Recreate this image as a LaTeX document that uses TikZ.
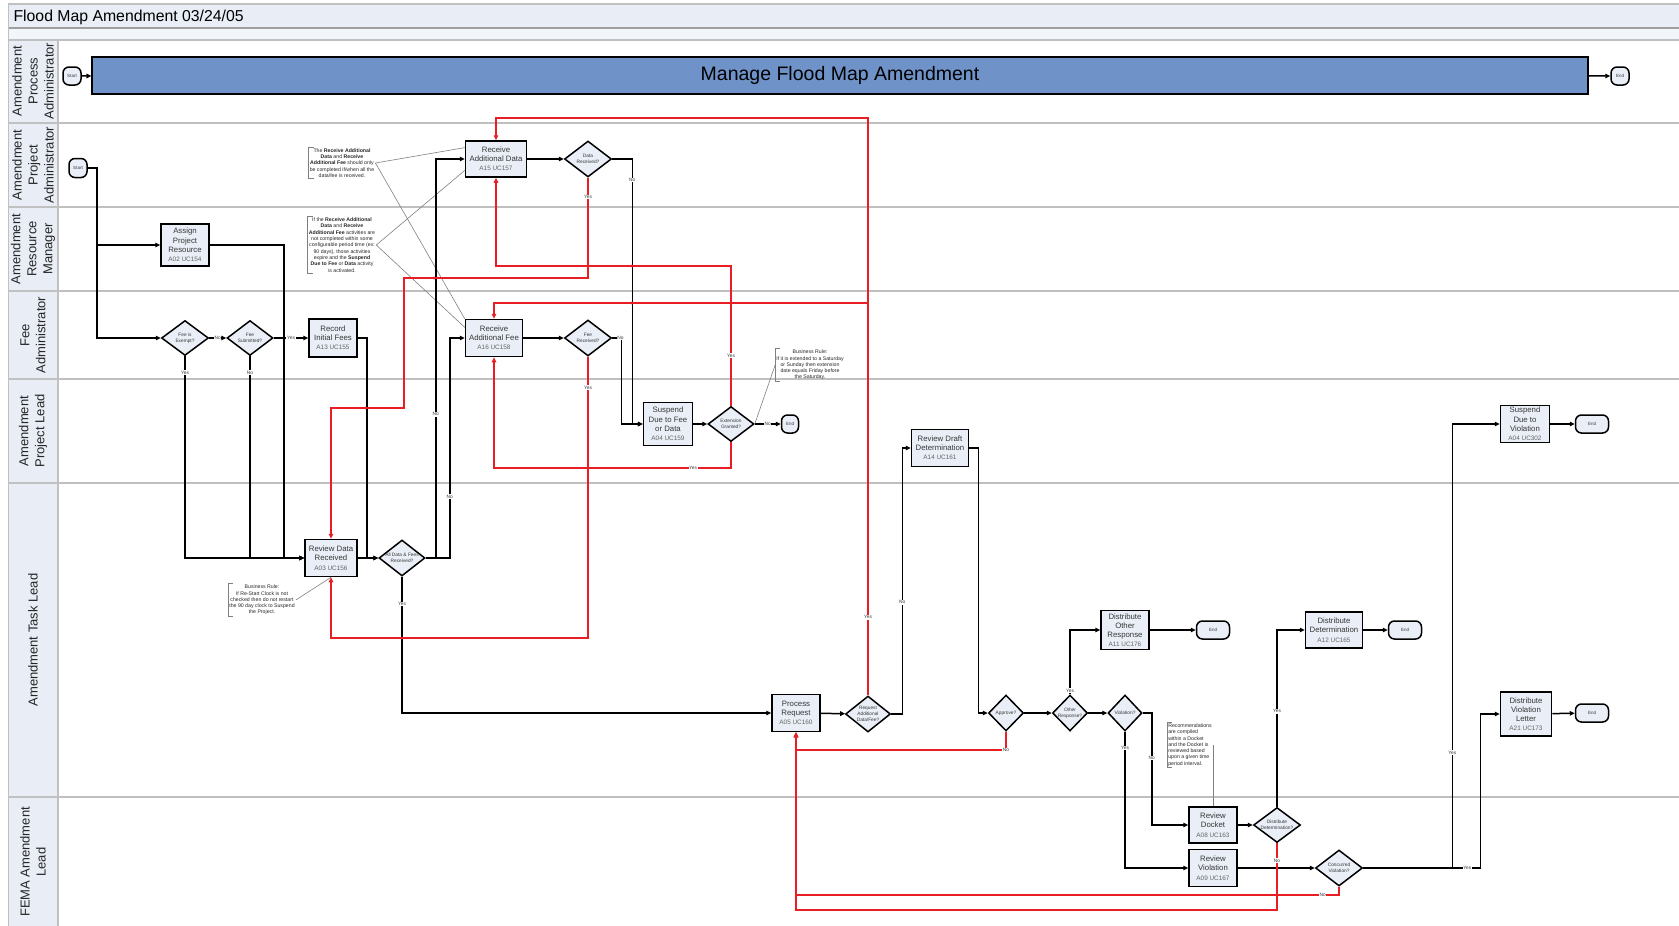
\documentclass[tikz,border=0pt]{standalone}
\usepackage{fontspec}
\setmainfont{Liberation Sans}
\usetikzlibrary{shapes.geometric,arrows.meta}
\definecolor{lanefill}{RGB}{232,237,246}
\definecolor{boxfill}{RGB}{233,238,247}
\definecolor{barblue}{RGB}{111,146,200}
\definecolor{laneline}{RGB}{192,192,192}
\definecolor{backred}{RGB}{232,30,36}
\definecolor{txtgrey}{RGB}{55,55,55}
\newcommand{\ucid}[1]{{\fontsize{6.4}{7.6}\selectfont\color{black!60}#1}}

\begin{document}
\begin{tikzpicture}[x=1pt,y=-1pt,
	task/.style={draw=black, line width=1.5pt, fill=boxfill, inner sep=0pt, align=center, text=txtgrey, font=\fontsize{7.8}{9.2}\selectfont},
	decide/.style={diamond, draw=black, line width=1.5pt, fill=boxfill, inner sep=0pt, label={[dtext]center:#1}},
	dtext/.style={align=center, inner sep=0pt, text=txtgrey, font=\fontsize{4.8}{6}\selectfont},
	term/.style={draw=black, line width=1.5pt, fill=boxfill, rounded corners=6pt, inner sep=0pt, text=txtgrey, font=\fontsize{4.5}{5}\selectfont},
	flow/.style={draw=black, line width=1.5pt, -{Triangle[length=5pt,width=4.5pt]}},
	redflow/.style={draw=backred, line width=1.5pt, -{Triangle[length=5pt,width=4.5pt]}},
	yn/.style={fill=white, inner sep=0.6pt, text=txtgrey, font=\fontsize{4.8}{5}\selectfont},
	memo/.style={align=center, inner sep=1pt, text=black!85, font=\fontsize{5.2}{6.3}\selectfont},
	brack/.style={draw=gray, line width=0.6pt},
	pointer/.style={draw=gray, line width=0.6pt},
	lanename/.style={rotate=90, align=center, text=black!85, font=\fontsize{13}{16}\selectfont},
	]
	\useasboundingbox (0,0) rectangle (1679,926);
	\fill[lanefill] (8,4) rectangle (1679,28);
	\fill[lanefill!55] (8,28) rectangle (1679,40);
	\fill[lanefill] (8,40) rectangle (58,926);
	\draw[laneline, line width=1.2pt] (8,4) -- (1679,4);
	\draw[gray!75, line width=1.2pt] (8,28) -- (1679,28);
	\draw[laneline, line width=1.2pt] (8,40) -- (1679,40);
	\draw[laneline, line width=1pt] (8,4) -- (8,926);
	\draw[laneline, line width=1.2pt] (58,40) -- (58,926);
	\foreach \y in {123,207,291,379,483,797}
		\draw[laneline, line width=1.6pt] (8,\y) -- (1679,\y);
	\node[anchor=base west, font=\fontsize{15.8}{18}\selectfont] (title) at (10,21) {Flood Map Amendment 03/24/05};

	\node[lanename] (lane1) at (33,81) {Amendment\\Process\\Administrator};
	\node[lanename] (lane2) at (33,165) {Amendment\\Project\\Administrator};
	\node[lanename] (lane3) at (33,249) {Amendment\\Resource\\Manager};
	\node[lanename] (lane4) at (33,335) {Fee\\Administrator};
	\node[lanename] (lane5) at (33,431) {Amendment\\Project Lead};
	\node[lanename] (lane6) at (33,640) {Amendment Task Lead};
	\node[lanename] (lane7) at (33,862) {FEMA Amendment\\Lead};

	\node[term, minimum width=18pt, minimum height=18pt] (start0) at (72,76) {Start};
	\node[draw=black, line width=1.2pt, fill=barblue, minimum width=1496pt, minimum height=37pt, inner sep=0pt, font=\fontsize{19.5}{22}\selectfont] (manage) at (840,75.5) {Manage Flood Map Amendment};
	\node[term, minimum width=18pt, minimum height=18pt] (end0) at (1620,76) {End};

	\node[term, minimum width=18pt, minimum height=19pt] (start) at (78,168) {Start};
	\node[task, minimum width=61pt, minimum height=36pt] (rad) at (496,159) {Receive\\Additional Data\\\ucid{A15 UC157}};
	\node[decide={Data\\Received?}, minimum width=47pt, minimum height=36pt] (datarec) at (588,159) {};
	\node[task, minimum width=48pt, minimum height=42pt] (apr) at (185,245) {Assign\\Project\\Resource\\\ucid{A02 UC154}};
	\node[memo] (memo1) at (342,163) {The \textbf{Receive Additional}\\\textbf{Data} and \textbf{Receive}\\\textbf{Additional Fee} should only\\be completed if/when all the\\data/fee is received.};
	\node[memo] (memo2) at (342,245) {If the \textbf{Receive Additional}\\\textbf{Data} and \textbf{Receive}\\\textbf{Additional Fee} activities are\\not completed within some\\configurable period time (ex:\\90 days), those activities\\expire and the \textbf{Suspend}\\\textbf{Due to Fee} or \textbf{Data} activity\\is activated.};

	\node[decide={Fee is\\Exempt?}, minimum width=47pt, minimum height=35pt] (feeex) at (185,338) {};
	\node[decide={Fee\\Submitted?}, minimum width=46pt, minimum height=35pt] (feesub) at (250,338) {};
	\node[task, minimum width=48pt, minimum height=38pt] (rif) at (333,338) {Record\\Initial Fees\\\ucid{A13 UC155}};
	\node[task, minimum width=57pt, minimum height=37pt] (raf) at (494,338) {Receive\\Additional Fee\\\ucid{A16 UC158}};
	\node[decide={Fee\\Received?}, minimum width=47pt, minimum height=36pt] (feerec) at (588,338) {};

	\node[task, minimum width=49pt, minimum height=43pt] (susp) at (668,424) {Suspend\\Due to Fee\\or Data\\\ucid{A04 UC159}};
	\node[decide={Extension\\Granted?}, minimum width=46pt, minimum height=35pt] (extg) at (731,424) {};
	\node[term, minimum width=17pt, minimum height=18pt] (end1) at (790,424) {End};
	\node[memo] (memo3) at (810,365) {Business Rule:\\If it is extended to a Saturday\\or Sunday then extension\\date equals Friday before\\the Saturday.};
	\node[task, minimum width=57pt, minimum height=37pt] (rdd) at (940,448) {Review Draft\\Determination\\\ucid{A14 UC161}};
	\node[task, minimum width=49pt, minimum height=37pt] (sdv) at (1525,424) {Suspend\\Due to\\Violation\\\ucid{A04 UC302}};
	\node[term, minimum width=33pt, minimum height=18pt] (end5) at (1592,424) {End};

	\node[task, minimum width=52pt, minimum height=37pt] (rdr) at (331,558) {Review Data\\Received\\\ucid{A03 UC156}};
	\node[decide={All Data \& Fees\\Received?}, minimum width=46pt, minimum height=36pt] (alldata) at (402,558) {};
	\node[memo] (memo4) at (262,600) {Business Rule:\\If Re-Start Clock is not\\checked then do not restart\\the 90 day clock to Suspend\\the Project.};
	\node[task, minimum width=48pt, minimum height=37pt] (preq) at (796,713) {Process\\Request\\\ucid{A05 UC160}};
	\node[decide={Request\\Additional\\Data/Fee?}, minimum width=45pt, minimum height=36pt] (reqadd) at (868,714) {};
	\node[decide={Approve?}, minimum width=35pt, minimum height=36pt] (approve) at (1006,713) {};
	\node[decide={Other\\Response?}, minimum width=35pt, minimum height=36pt] (other) at (1070,713) {};
	\node[decide={Violation?}, minimum width=34pt, minimum height=36pt] (viol) at (1125,713) {};
	\node[task, minimum width=48pt, minimum height=39pt] (dor) at (1125,630) {Distribute\\Other\\Response\\\ucid{A11 UC176}};
	\node[term, minimum width=33pt, minimum height=18pt] (end2) at (1213,630) {End};
	\node[task, minimum width=57pt, minimum height=36pt] (dd) at (1334,630) {Distribute\\Determination\\\ucid{A12 UC165}};
	\node[term, minimum width=33pt, minimum height=18pt] (end3) at (1405,630) {End};
	\node[task, minimum width=51pt, minimum height=44pt] (dvl) at (1526,714) {Distribute\\Violation\\Letter\\\ucid{A21 UC173}};
	\node[term, minimum width=33pt, minimum height=18pt] (end4) at (1592,713) {End};
	\node[memo, align=left] (memo5) at (1190,745) {Recommendations\\are compiled\\within a Docket\\and the Docket is\\reviewed based\\upon a given time\\period interval.};

	\node[task, minimum width=48pt, minimum height=36pt] (rdock) at (1213,825) {Review\\Docket\\\ucid{A08 UC163}};
	\node[decide={Distribute\\Determination?}, minimum width=47pt, minimum height=35pt] (ddq) at (1277,825) {};
	\node[task, minimum width=48pt, minimum height=37pt] (rviol) at (1213,868) {Review\\Violation\\\ucid{A09 UC167}};
	\node[decide={Concurred\\Violation?}, minimum width=47pt, minimum height=36pt] (concv) at (1339,868) {};

	\foreach \m in {memo1,memo2,memo3,memo4,memo5}
		\draw[brack] ([xshift=5pt]\m.north west) -- (\m.north west) -- (\m.south west) -- ([xshift=5pt]\m.south west);
	\draw[pointer] (memo1.east) -- (rad.160);
	\draw[pointer] (memo1.east) -- (raf.north west);
	\draw[pointer] (memo2.east) -- (rad.200);
	\draw[pointer] (memo2.east) -- (raf.160);
	\draw[pointer] (memo3.west) -- (extg.east);
	\draw[pointer] (memo4.east) -- (rdr.south);
	\draw[pointer] (memo5.east -| rdock.north) -- (rdock.north);

	\draw[flow] (start0) -- (manage);
	\draw[flow] (manage) -- (end0);
	\draw[flow] (start.east) -- ++(9,0) |- (feeex.west);
	\draw[flow] (start.east) ++(9,0) |- (apr.west);
	\draw[flow] (feeex) -- node[yn]{No} (feesub);
	\draw[flow] (feesub) -- node[yn]{Yes} (rif);
	\draw[flow] (feeex.south) |- node[yn, pos=0.04]{Yes} (rdr.west);
	\draw[flow] (feesub.south) |- node[yn, pos=0.04]{No} (rdr.west);
	\draw[flow] (apr.east) -- ++(74,0) |- (rdr.west);
	\draw[flow] (rdr) -- (alldata);
	\draw[flow] (rif.east) -- ++(9,0) |- (alldata.west);
	\draw[flow] (alldata.east) -- ++(10,0) |- node[yn, pos=0.18]{No} (rad.west);
	\draw[flow] (alldata.east) -- ++(24,0) |- node[yn, pos=0.14]{No} (raf.west);
	\draw[flow] (alldata.south) |- node[yn, pos=0.1]{Yes} (preq.west);
	\draw[flow] (rad) -- (datarec);
	\draw[flow] (datarec.east) -- ++(20,0) |- node[yn, pos=0.04]{No} (susp.west);
	\draw[flow] (raf) -- (feerec);
	\draw[flow] (feerec.east) -- node[yn, pos=0.9]{No} ++(9,0) |- (susp.west);
	\draw[flow] (susp) -- (extg);
	\draw[flow] (extg) -- node[yn]{No} (end1);
	\draw[flow] (preq) -- (reqadd);
	\draw[flow] (reqadd.east) -- ++(11,0) |- node[yn, pos=0.21]{No} (rdd.west);
	\draw[flow] (rdd.east) -- ++(9,0) |- (approve.west);
	\draw[flow] (approve) -- (other);
	\draw[flow] (other) -- (viol);
	\draw[flow] (other.north) |- node[yn, pos=0.03]{Yes} (dor.west);
	\draw[flow] (dor) -- (end2);
	\draw[flow] (viol.east) -- ++(9,0) |- node[yn, pos=0.2]{No} (rdock.west);
	\draw[flow] (viol.south) |- node[yn, pos=0.06]{Yes} (rviol.west);
	\draw[flow] (rdock) -- (ddq);
	\draw[flow] (ddq.north) |- node[yn, pos=0.27]{Yes} (dd.west);
	\draw[flow] (dd) -- (end3);
	\draw[flow] (rviol) -- (concv);
	\draw[flow] (concv.east) -- node[yn, pos=0.89]{Yes} ++(117,0) |- (dvl.west);
	\draw[flow] (concv.east) -- ++(89,0) |- node[yn, pos=0.13]{Yes} (sdv.west);
	\draw[flow] (sdv) -- (end5);
	\draw[flow] (dvl) -- (end4);

	\coordinate (ytop) at (0,118);
	\coordinate (yrad) at (0,266);
	\coordinate (ydat) at (0,278);
	\coordinate (yfee) at (0,303);
	\coordinate (bendA) at (404,408);
	\coordinate (yraf) at (0,468);
	\coordinate (yrdr) at (0,638);
	\coordinate (yapp) at (0,750);
	\coordinate (ycon) at (0,895);
	\coordinate (ydis) at (0,910);
	\draw[redflow] (reqadd.north) -- node[yn, pos=0.135]{Yes} (reqadd.north |- ytop) -| (rad.north);
	\draw[redflow] (reqadd.north |- yfee) -| (raf.north);
	\draw[redflow] (extg.north) |- node[yn, pos=0.18]{Yes} (rad.south |- yrad) -- (rad.south);
	\draw[redflow] (extg.south) |- node[yn, pos=0.58]{Yes} (raf.south |- yraf) -- (raf.south);
	\draw[redflow] (datarec.south) -- node[yn, pos=0.19]{Yes} (datarec.south |- ydat) -| (bendA) -| (rdr.north);
	\draw[redflow] (feerec.south) |- node[yn, pos=0.055]{Yes} (rdr.south |- yrdr) -- (rdr.south);
	\draw[redflow] (approve.south) |- node[yn, pos=0.5]{No} (preq.south |- yapp) -- (preq.south);
	\draw[redflow] (ddq.south) |- node[yn, pos=0.13]{No} (preq.south |- ydis) -- (preq.south);
	\draw[redflow] (concv.south) |- node[yn, pos=0.515]{No} (preq.south |- ycon) -- (preq.south);
	\foreach \px/\py in {588/266,632/266,632/303,731/303,434/278,366/408,588/468,402/638,1277/868,1277/895}
		\fill[backred] (\px,\py) circle (1.6pt);
\end{tikzpicture}
\end{document}
